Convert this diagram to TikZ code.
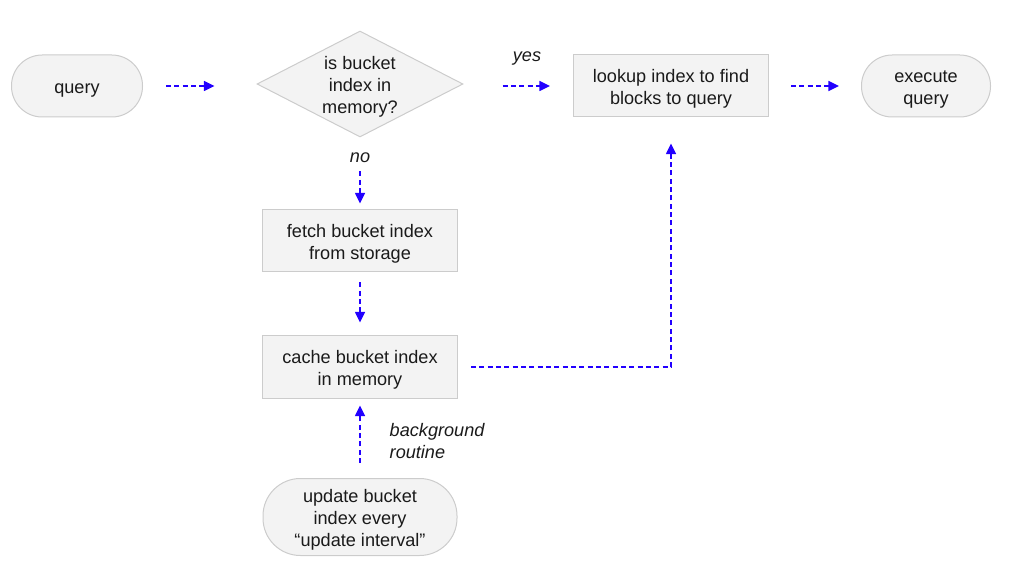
\documentclass[tikz,border=0pt]{standalone}
\usepackage{fontspec}
\setmainfont{Liberation Sans}
\usetikzlibrary{shapes.geometric,arrows.meta}
\definecolor{boxfill}{HTML}{F3F3F3}
\definecolor{boxline}{HTML}{CCCCCC}
\definecolor{arrowblue}{HTML}{2200FF}
\definecolor{txt}{HTML}{1A1A1A}
\newcommand{\tstr}{\rule{0pt}{15.5pt}}
\newcommand{\bstr}{\rule[-4.5pt]{0pt}{0pt}}
\begin{document}
\begin{tikzpicture}[x=0.75pt,y=-0.75pt,
  every node/.style={font=\fontsize{13.6}{16.5}\selectfont, text=txt, align=center},
  proc/.style={draw=boxline, fill=boxfill, line width=0.75pt, minimum width=146.25pt, minimum height=46.5pt, inner sep=0pt},
  term/.style={draw=boxline, fill=boxfill, line width=0.75pt, rounded corners=23pt, minimum height=46.5pt, inner sep=0pt},
  decision/.style={draw=boxline, fill=boxfill, line width=0.75pt, diamond, aspect=2, minimum width=154.5pt, minimum height=79.5pt, inner sep=-6pt},
  flow/.style={draw=arrowblue, line width=1.1pt, dash pattern=on 3.75pt off 2.5pt, -{Triangle[length=8pt,width=7.5pt]}},
  lbl/.style={font=\fontsize{13.6}{16.5}\selectfont\itshape}
]
\useasboundingbox (0,0) rectangle (1014,577);

\node[term, minimum width=98.25pt] (q) at (77,86) {\tstr query\bstr};
\node[decision] (dia) at (360,84) {\tstr is bucket\\index in\\memory?\bstr};
\node[proc] (lk) at (671,86) {\tstr lookup index to find\\blocks to query\bstr};
\node[term, minimum width=96.75pt] (ex) at (926,86) {\tstr execute\\query\bstr};
\node[proc] (fe) at (360,241) {\tstr fetch bucket index\\from storage\bstr};
\node[proc] (ca) at (360,367) {\tstr cache bucket index\\in memory\bstr};
\node[term, minimum width=145.5pt, minimum height=57.75pt, rounded corners=28pt] (up) at (360,517) {\tstr update bucket\\index every\\“update interval”\bstr};

\draw[flow, shorten <=17.25pt, shorten >=31.5pt] (q.east) -- (q.east -| dia.west);
\draw[flow, shorten <=29.25pt, shorten >=17.25pt] (lk.west -| dia.east) -- (lk.west);
\draw[flow, shorten <=16.5pt, shorten >=16.5pt] (lk.east) -- (ex.west);
\draw[flow, shorten <=25.5pt, shorten >=4.5pt] (dia.south) -- (fe.north);
\draw[flow, shorten <=7.5pt, shorten >=9.75pt] (fe.south) -- (ca.north);
\draw[flow, shorten <=9.75pt, shorten >=19.5pt] (ca.east) -- (ca.east -| lk.south) -- (lk.south);
\draw[flow, shorten <=11.25pt, shorten >=5.25pt] (up.north) -- (ca.south);

\node[lbl] (yes) at (527,59) {yes};
\node[lbl] (no) at (360,158) {no};
\node[lbl, anchor=west, align=left] (bg) at (385,441) {background\\routine};
\end{tikzpicture}
\end{document}
